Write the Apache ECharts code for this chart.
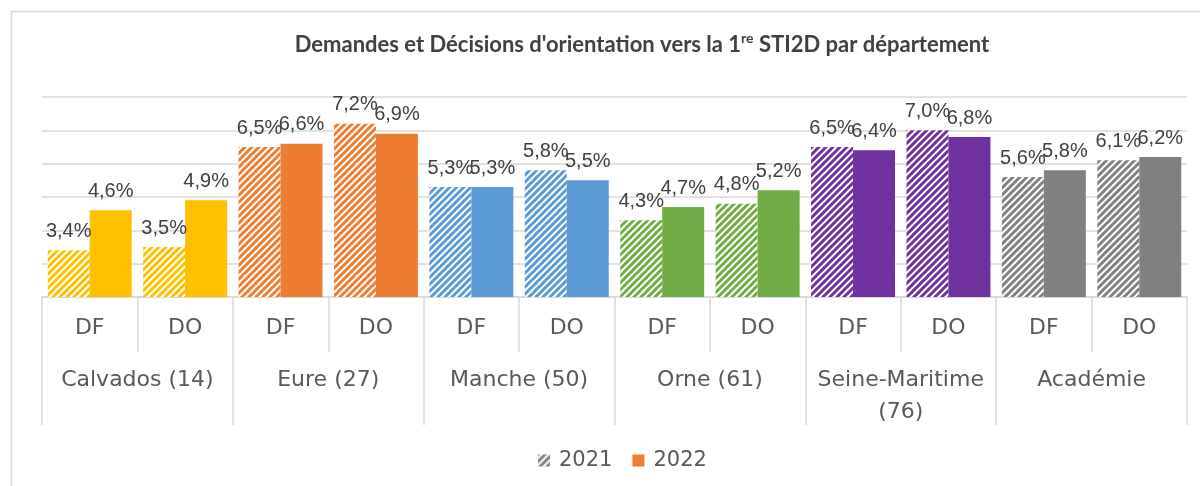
<!DOCTYPE html>
<html>
<head>
<meta charset="utf-8">
<script src="https://cdn.jsdelivr.net/npm/echarts@6/dist/echarts.min.js"></script>
<style>
  html, body { margin: 0; padding: 0; background: #fff; }
  #chart { width: 1200px; height: 486px; }
</style>
</head>
<body>
<div id="chart"></div>
<script>
// categories
var departements = ['Calvados (14)', 'Eure (27)', 'Manche (50)', 'Orne (61)', 'Seine-Maritime\n(76)', 'Académie']
var types = ['DF', 'DO', 'DF', 'DO', 'DF', 'DO', 'DF', 'DO', 'DF', 'DO', 'DF', 'DO']
var couleurs = ['#FFC000', '#ED7D31', '#5B9BD5', '#70AD47', '#7030A0', '#808080']

// series values (%)
var valeurs2021 = [3.4, 3.5, 6.5, 7.2, 5.3, 5.8, 4.3, 4.8, 6.5, 7.0, 5.6, 6.1]
var valeurs2022 = [4.6, 4.9, 6.6, 6.9, 5.3, 5.5, 4.7, 5.2, 6.4, 6.8, 5.8, 6.2]

// hachures "/" facon Excel
function hachure(color) {
  var size = 7
  var c = document.createElement('canvas')
  c.width = size
  c.height = size
  var ctx = c.getContext('2d')
  ctx.fillStyle = '#fff'
  ctx.fillRect(0, 0, size, size)
  ctx.strokeStyle = color
  ctx.lineWidth = 3
  ctx.beginPath()
  ctx.moveTo(-1, 1); ctx.lineTo(1, -1)
  ctx.moveTo(0, size); ctx.lineTo(size, 0)
  ctx.moveTo(size - 1, size + 1); ctx.lineTo(size + 1, size - 1)
  ctx.stroke()
  return { image: c, repeat: 'repeat' }
}

function fmt(p) {
  return String(p.value.toFixed(1)).replace('.', ',') + '%'
}

var labelStyle = {
  show: true,
  position: 'top',
  distance: 9,
  formatter: fmt,
  color: '#404040',
  fontSize: 20,
  fontFamily: '"Liberation Sans", Arial, sans-serif'
}

var data2021 = valeurs2021.map(function (v, i) {
  return { value: v, itemStyle: { color: hachure(couleurs[Math.floor(i / 2)]) } }
})
var data2022 = valeurs2022.map(function (v, i) {
  return { value: v, itemStyle: { color: couleurs[Math.floor(i / 2)] } }
})

var axisFont = '"DejaVu Sans", sans-serif'

var option = {
  animation: false,
  title: {
    text: '{a|Demandes et Décisions d\'orientation vers la 1}{s|re}{a| STI2D par département}',
    left: 637,
    textAlign: 'center',
    top: 26,
    textStyle: {
      rich: {
        a: { fontFamily: 'Lato', fontWeight: 'bold', fontSize: 22, color: '#404040', lineHeight: 28 },
        s: { fontFamily: 'Lato', fontWeight: 'bold', fontSize: 14, color: '#404040', lineHeight: 28, verticalAlign: 'top' }
      }
    }
  },
  graphic: [{
    type: 'rect',
    shape: { x: 11.5, y: 11.5, width: 1400, height: 700 },
    style: { fill: 'none', stroke: '#d9d9d9', lineWidth: 1.5 },
    silent: true
  }],
  legend: {
    top: 445,
    left: 533,
    icon: 'rect',
    itemWidth: 12,
    itemHeight: 12,
    itemGap: 20,
    textStyle: { fontFamily: axisFont, fontSize: 21, color: '#595959', padding: [0, 0, 0, 4] },
    data: ['2021', '2022']
  },
  grid: { left: 42, right: 13, top: 97, bottom: 189 },
  xAxis: [{
    type: 'category',
    data: types,
    position: 'bottom',
    axisLine: { show: true, lineStyle: { color: '#d9d9d9', width: 1.5 } },
    axisTick: { show: true, interval: 0, length: 55, lineStyle: { color: '#d9d9d9', width: 1.5 } },
    axisLabel: { interval: 0, margin: 20, fontFamily: axisFont, fontSize: 22, color: '#595959' }
  }, {
    type: 'category',
    data: departements,
    position: 'bottom',
    axisLine: { show: false },
    axisTick: { show: true, interval: 0, length: 128, lineStyle: { color: '#d9d9d9', width: 1.5 } },
    axisLabel: { interval: 0, margin: 67, lineHeight: 32, fontFamily: axisFont, fontSize: 22, color: '#595959' }
  }],
  yAxis: {
    type: 'value',
    min: 2,
    max: 8,
    interval: 1,
    axisLabel: { show: false },
    axisLine: { show: false },
    axisTick: { show: false },
    splitLine: { lineStyle: { color: '#d9d9d9', width: 1.5 } }
  },
  series: [{
    name: '2021',
    type: 'bar',
    xAxisIndex: 0,
    barGap: 0,
    barCategoryGap: '12%',
    itemStyle: { color: hachure('#808080') },
    label: labelStyle,
    data: data2021
  }, {
    name: '2022',
    type: 'bar',
    xAxisIndex: 0,
    barGap: 0,
    barCategoryGap: '12%',
    itemStyle: { color: '#ED7D31' },
    label: labelStyle,
    data: data2022
  }]
}

var chart = echarts.init(document.getElementById('chart'))
chart.setOption(option)
</script>
</body>
</html>
